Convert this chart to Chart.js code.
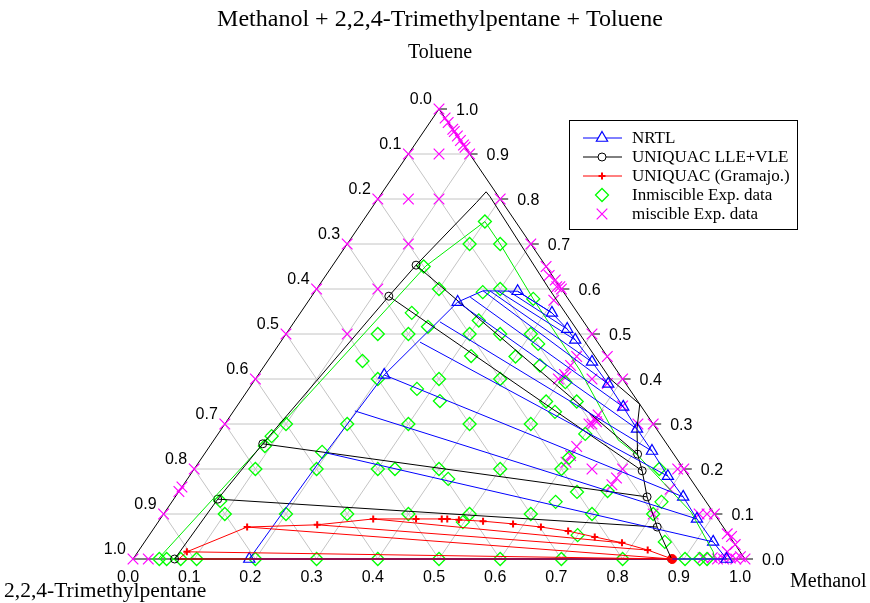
<!DOCTYPE html>
<html>
<head>
<meta charset="utf-8">
<script src="https://cdn.jsdelivr.net/npm/chart.js@4.4.1/dist/chart.umd.min.js"></script>
<style>
  html, body { margin: 0; padding: 0; background: #fff; }
  canvas { display: block; }
</style>
</head>
<body>
<canvas id="tern" width="870" height="603"></canvas>
<script>
// compositions are [methanol, toluene] mole fractions, TMP = 1 - methanol - toluene
var tickValues = [0, 0.1, 0.2, 0.3, 0.4, 0.5, 0.6, 0.7, 0.8, 0.9, 1.0];
var legendNames = ['NRTL', 'UNIQUAC LLE+VLE', 'UNIQUAC (Gramajo.)', 'Inmiscible Exp. data', 'miscible Exp. data'];

var nrtlBinodal = [[0.19,0],[0.197,0.236],[0.206,0.409],[0.245,0.571],[0.274,0.596],[0.331,0.595],
  [0.411,0.547],[0.454,0.511],[0.479,0.487],[0.531,0.438],[0.582,0.389],[0.632,0.338],[0.679,0.289],
  [0.728,0.24],[0.782,0.184],[0.83,0.138],[0.877,0.089],[0.929,0.038],[0.97,0]];
var nrtlTieLeft = [[0.331,0.595],[0.315,0.596],[0.298,0.596],[0.285,0.596],[0.274,0.596],[0.26,0.582],
  [0.245,0.571],[0.238,0.527],[0.228,0.482],[0.206,0.409],[0.198,0.329],[0.197,0.236],[0.19,0]];
var nrtlTieRight = [[0.411,0.547],[0.454,0.511],[0.479,0.487],[0.531,0.438],[0.582,0.389],[0.632,0.338],
  [0.679,0.289],[0.728,0.24],[0.782,0.184],[0.83,0.138],[0.877,0.089],[0.929,0.038],[0.97,0]];
var nrtlMarked = [[0.331,0.595],[0.245,0.571],[0.206,0.409],[0.19,0]];

var uniqBinodal = [[0.068,0],[0.072,0.133],[0.084,0.256],[0.126,0.584],[0.136,0.653],[0.165,0.792],
  [0.169,0.816],[0.18,0.806],[0.38,0.6],[0.58,0.4],[0.656,0.344],[0.679,0.289],[0.708,0.233],
  [0.734,0.196],[0.771,0.138],[0.821,0.071],[0.88,0]];
var uniqTieLeft = [[0.136,0.653],[0.126,0.584],[0.084,0.256],[0.072,0.133],[0.068,0]];
var uniqTieRight = [[0.708,0.233],[0.734,0.196],[0.771,0.138],[0.821,0.071],[0.88,0]];

var gramajoBinodal = [[0.075,0],[0.08,0.016],[0.151,0.071],[0.263,0.076],[0.348,0.089],[0.418,0.089],
  [0.46,0.089],[0.469,0.089],[0.489,0.087],[0.53,0.084],[0.582,0.078],[0.631,0.071],[0.68,0.062],
  [0.73,0.049],[0.781,0.036],[0.831,0.02],[0.881,0]];
var gramajoTieLeft = [[0.075,0],[0.08,0.016],[0.151,0.071],[0.263,0.076],[0.348,0.089]];
var gramajoTieRight = [[0.881,0],[0.881,0],[0.881,0],[0.831,0.02],[0.781,0.036]];

var immiscibleCurve = [[0.041,0],[0.153,0.651],[0.2,0.75],[0.25,0.7],[0.365,0.578],[0.52,0.42],
  [0.66,0.265],[0.71,0.23],[0.86,0.104],[0.94,0.016],[0.95,0]];
var immiscible = [[0.2,0.75],[0.2,0.7],[0.25,0.7],[0.15,0.65],[0.2,0.6],[0.275,0.593],[0.3,0.6],
  [0.365,0.578],[0.182,0.547],[0.3,0.53],[0.3,0.5],[0.35,0.5],[0.4,0.5],[0.423,0.478],[0.327,0.451],
  [0.4,0.45],[0.45,0.43],[0.3,0.4],[0.4,0.4],[0.51,0.393],[0.326,0.351],[0.5,0.35],[0.55,0.35],
  [0.526,0.327],[0.4,0.3],[0.5,0.3],[0.6,0.278],[0.224,0.516],[0.15,0.5],[0.2,0.5],[0.155,0.44],
  [0.2,0.4],[0.275,0.378],[0.1,0.3],[0.2,0.3],[0.3,0.3],[0.09,0.273],[0.09,0.251],[0.19,0.238],
  [0.1,0.2],[0.2,0.2],[0.3,0.2],[0.1,0.1],[0.2,0.1],[0.3,0.1],[0.078,0.129],[0.043,0],[0.055,0],
  [0.078,0],[0.104,0],[0.2,0],[0.3,0],[0.4,0],[0.5,0],[0.6,0],[0.7,0],[0.8,0],[0.902,0],[0.926,0],
  [0.938,0],[0.4,0.1],[0.5,0.1],[0.6,0.1],[0.7,0.1],[0.8,0.1],[0.498,0.082],[0.7,0.053],[0.85,0.038],
  [0.328,0.2],[0.4,0.2],[0.426,0.178],[0.5,0.2],[0.6,0.2],[0.6,0.225],[0.76,0.2],[0.651,0.149],
  [0.627,0.127],[0.7,0.151],[0.8,0.127]];

var miscible = [[0,1],[0.02,0.98],[0.03,0.97],[0.045,0.955],[0.05,0.95],[0.06,0.94],[0.07,0.93],
  [0.08,0.92],[0.085,0.915],[0.1,0.9],[0,0.9],[0.05,0.9],[0,0.8],[0.05,0.8],[0.1,0.8],[0.2,0.8],
  [0,0.7],[0.1,0.7],[0.3,0.7],[0,0.6],[0.1,0.6],[0,0.5],[0.1,0.5],[0,0.4],[0,0.3],[0,0.2],[0,0.16],
  [0,0.15],[0,0.1],[0,0],[0.025,0],[0.35,0.65],[0.365,0.63],[0.38,0.62],[0.395,0.605],[0.4,0.6],
  [0.39,0.605],[0.4,0.575],[0.5,0.5],[0.55,0.45],[0.5,0.45],[0.5,0.43],[0.5,0.41],[0.505,0.405],
  [0.495,0.4],[0.55,0.4],[0.58,0.39],[0.6,0.4],[0.63,0.34],[0.675,0.3],[0.7,0.3],[0.6,0.31],[0.6,0.3],
  [0.605,0.305],[0.595,0.3],[0.6,0.32],[0.6,0.25],[0.6,0.23],[0.6,0.215],[0.65,0.2],[0.7,0.2],
  [0.7,0.18],[0.7,0.165],[0.79,0.2],[0.8,0.2],[0.8,0.155],[0.8,0.1],[0.875,0.1],[0.888,0.1],[0.9,0.1],
  [0.943,0.056],[0.953,0.05],[0.968,0.032],[0.963,0.016],[0.93,0.003],[0.945,0.003],[0.955,0],
  [0.965,0],[0.975,0.002],[0.985,0],[0.99,0.005],[1,0]];

function toXY(p) { return { x: p[0] + p[1] / 2, y: p[1] }; }
function pts(list) { return list.map(toXY); }
function ties(left, right) {
  var out = [];
  for (var i = 0; i < left.length; i++) {
    out.push(toXY(left[i]), toXY(right[i]), { x: NaN, y: NaN });
  }
  return out;
}

var lineDs = function (data, color) {
  return { data: data, showLine: true, borderColor: color, borderWidth: 1, pointRadius: 0, fill: false, clip: false };
};
var markDs = function (data, color, style, r, bw, fillColor) {
  return { data: data, showLine: false, pointStyle: style, pointRadius: r, pointBorderColor: color,
    pointBackgroundColor: fillColor || 'rgba(0,0,0,0)', pointBorderWidth: bw, clip: false };
};

var ternPlugin = {
  id: 'tern',
  beforeDatasetsDraw: function (chart) {
    var ctx = chart.ctx, sx = chart.scales.x, sy = chart.scales.y;
    function P(m, t) { return [sx.getPixelForValue(m + t / 2), sy.getPixelForValue(t)]; }
    function seg(a, b) { ctx.beginPath(); ctx.moveTo(a[0], a[1]); ctx.lineTo(b[0], b[1]); ctx.stroke(); }
    ctx.save();
    ctx.strokeStyle = '#c4c4c4';
    ctx.lineWidth = 1;
    for (var k = 1; k < 10; k++) {
      var v = k / 10;
      seg(P(0, v), P(1 - v, v));
      seg(P(v, 0), P(v, 1 - v));
      seg(P(1 - v, 0), P(0, 1 - v));
    }
    ctx.strokeStyle = '#000';
    seg(P(0, 0), P(1, 0));
    seg(P(1, 0), P(0, 1));
    seg(P(0, 1), P(0, 0));
    // right edge ticks
    tickValues.forEach(function (v) {
      var p = P(1 - v, v);
      seg(p, [p[0] + 8, p[1]]);
    });
    ctx.restore();
  },
  afterDraw: function (chart) {
    var ctx = chart.ctx, sx = chart.scales.x, sy = chart.scales.y;
    function P(m, t) { return [sx.getPixelForValue(m + t / 2), sy.getPixelForValue(t)]; }
    ctx.save();
    ctx.fillStyle = '#000';
    ctx.font = '16px "Liberation Sans", Arial, sans-serif';
    ctx.textBaseline = 'middle';
    tickValues.forEach(function (v) {
      var s = v.toFixed(1);
      var b = P(v, 0);
      ctx.textAlign = 'center';
      ctx.fillText(s, b[0] - 5, 578);
      var l = P(0, 1 - v);
      ctx.textAlign = 'right';
      ctx.fillText(s, l[0] - 7, l[1] - 9);
      var r = P(1 - v, v);
      ctx.textAlign = 'left';
      ctx.fillText(s, r[0] + 17, r[1] + 2);
    });
    ctx.font = '24px "Liberation Serif", "Times New Roman", serif';
    ctx.textAlign = 'center';
    ctx.fillText('Methanol + 2,2,4-Trimethylpentane + Toluene', 440, 20);
    ctx.font = '20px "Liberation Serif", "Times New Roman", serif';
    ctx.fillText('Toluene', 440, 53);
    ctx.textAlign = 'left';
    ctx.fillText('Methanol', 790, 582);
    ctx.font = '21.5px "Liberation Serif", "Times New Roman", serif';
    ctx.fillText('2,2,4-Trimethylpentane', 4, 591);

    // legend
    var bx = 569, by = 120, bw = 228, bh = 109;
    ctx.strokeStyle = '#000';
    ctx.lineWidth = 1;
    ctx.strokeRect(bx + 0.5, by + 0.5, bw, bh);
    var entries = [
      { c: '#0000ff', line: true, style: 'triangle', r: 6.5, w: 1.2 },
      { c: '#000000', line: true, style: 'circle', r: 4, w: 1 },
      { c: '#ff0000', line: true, style: 'cross', r: 3.5, w: 2 },
      { c: '#00ff00', line: false, style: 'rectRot', r: 6.5, w: 1.3 },
      { c: '#ff00ff', line: false, style: 'crossRot', r: 7.5, w: 1.2 }
    ];
    ctx.font = '17px "Liberation Serif", "Times New Roman", serif';
    entries.forEach(function (e, i) {
      var y = 138 + i * 19;
      ctx.strokeStyle = e.c;
      ctx.lineWidth = 1;
      if (e.line) {
        ctx.beginPath(); ctx.moveTo(583, y); ctx.lineTo(622, y); ctx.stroke();
      }
      ctx.fillStyle = '#fff';
      ctx.lineWidth = e.w;
      Chart.helpers.drawPoint(ctx, { pointStyle: e.style, rotation: 0, radius: e.r, borderWidth: e.w }, 602, y);
      ctx.fillStyle = '#000';
      ctx.fillText(legendNames[i], 632, y + 1);
    });
    ctx.restore();
  }
};

var chart = new Chart(document.getElementById('tern'), {
  type: 'scatter',
  data: {
    datasets: [
      lineDs(ties(gramajoTieLeft, gramajoTieRight), '#ff0000'),
      lineDs(pts(gramajoBinodal), '#ff0000'),
      lineDs(ties(nrtlTieLeft, nrtlTieRight), '#0000ff'),
      lineDs(pts(nrtlBinodal), '#0000ff'),
      lineDs(ties(uniqTieLeft, uniqTieRight), '#000000'),
      lineDs(pts(uniqBinodal), '#000000'),
      lineDs(pts(immiscibleCurve), '#00ee00'),
      markDs(pts(gramajoBinodal.slice(1, -1)), '#ff0000', 'cross', 3.5, 2),
      markDs(pts([gramajoBinodal[gramajoBinodal.length - 1]]), '#ff0000', 'circle', 4.5, 1, '#ff0000'),
      markDs(pts(nrtlMarked.concat(nrtlTieRight)), '#0000ff', 'triangle', 6.5, 1.2),
      markDs(pts(uniqTieLeft.concat(uniqTieRight)), '#000000', 'circle', 4, 1),
      markDs(pts(immiscible), '#00ff00', 'rectRot', 6.5, 1.3),
      markDs(pts(miscible), '#ff00ff', 'crossRot', 7.5, 1.2)
    ]
  },
  options: {
    responsive: false,
    animation: false,
    layout: { padding: { left: 133, right: 125, top: 109, bottom: 44 } },
    scales: {
      x: { type: 'linear', min: 0, max: 1, display: false },
      y: { type: 'linear', min: 0, max: 1, display: false }
    },
    plugins: { legend: { display: false }, tooltip: { enabled: false } }
  },
  plugins: [ternPlugin]
});
</script>
</body>
</html>
